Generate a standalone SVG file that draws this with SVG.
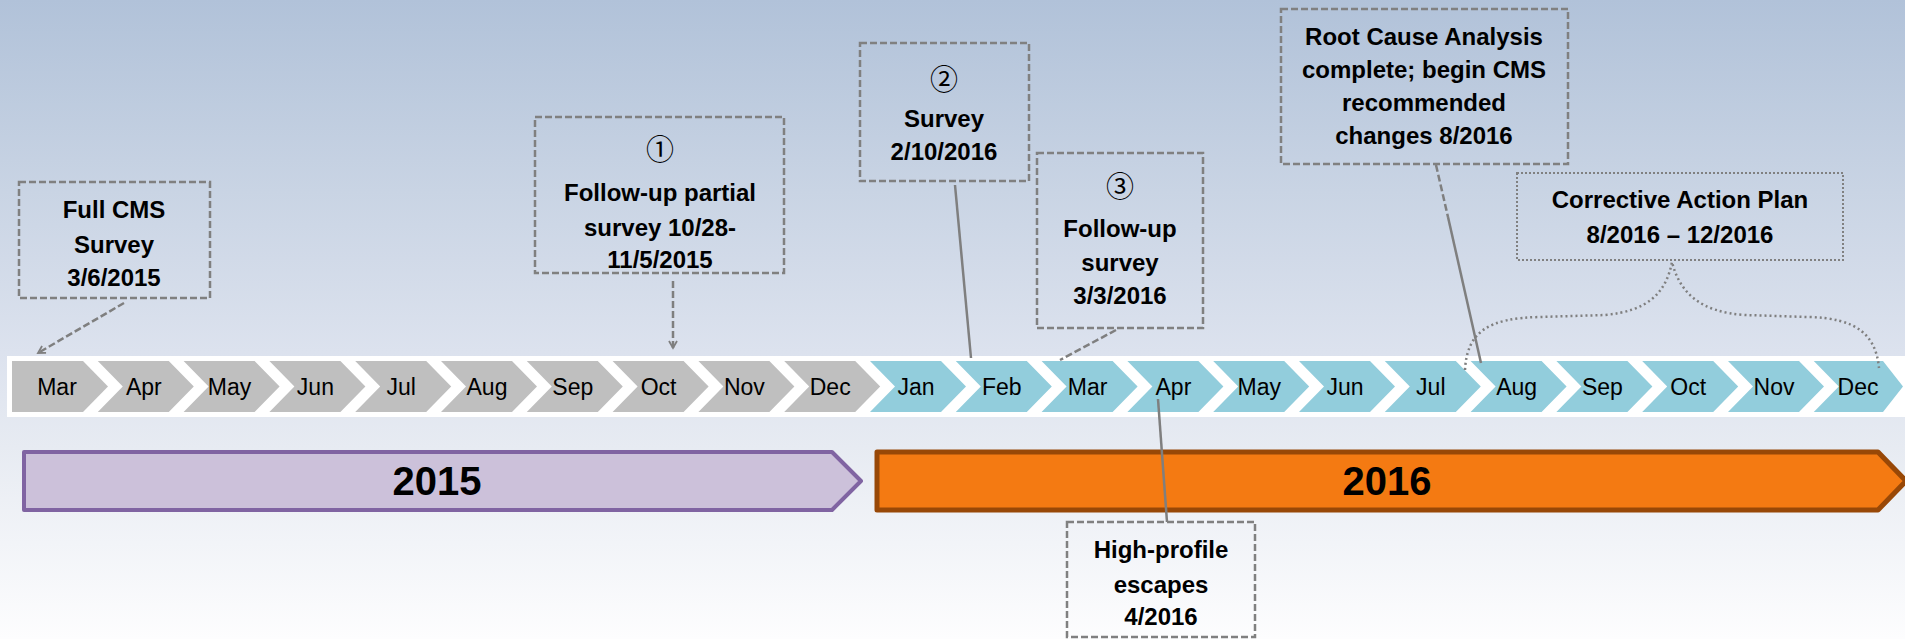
<svg xmlns="http://www.w3.org/2000/svg" width="1905" height="639" viewBox="0 0 1905 639">
<defs>
<linearGradient id="bg" x1="0" y1="0" x2="0" y2="1">
<stop offset="0" stop-color="#B1C2D9"/>
<stop offset="0.3" stop-color="#C9D4E4"/>
<stop offset="0.55" stop-color="#DCE2EE"/>
<stop offset="0.7" stop-color="#E7EBF2"/>
<stop offset="0.85" stop-color="#F2F4F8"/>
<stop offset="1" stop-color="#FDFDFE"/>
</linearGradient>
<marker id="arr" markerUnits="userSpaceOnUse" markerWidth="12" markerHeight="12" viewBox="0 0 12 12" refX="10" refY="6" orient="auto">
<path d="M3,2 L10,6 L3,10" fill="none" stroke="#7F7F7F" stroke-width="1.8"/>
</marker>
</defs>
<style>
.m15{fill:#BFBFBF}
.m16{fill:#92CDDC}
.mt{font-family:"Liberation Sans",Arial,sans-serif;font-size:23px;fill:#000;text-anchor:middle}
.bx{fill:none;stroke:#808080;stroke-width:2.5;stroke-dasharray:7 3}
.bxd{fill:none;stroke:#808080;stroke-width:2;stroke-dasharray:2 2}
.bt{font-family:"Liberation Sans",Arial,sans-serif;font-size:24px;font-weight:bold;fill:#000;text-anchor:middle}
.cn{font-family:"Noto Sans CJK JP","DejaVu Sans",sans-serif;font-size:28px;fill:#000;text-anchor:middle}
.yt{font-family:"Liberation Sans",Arial,sans-serif;font-size:40px;font-weight:bold;fill:#000;text-anchor:middle}
.cd{fill:none;stroke:#7F7F7F;stroke-width:2.5;stroke-dasharray:7 3}
.cs{fill:none;stroke:#7F7F7F;stroke-width:2.5}
.cdot{fill:none;stroke:#7F7F7F;stroke-width:2.5;stroke-dasharray:2 3}
</style>
<rect x="0" y="0" width="1905" height="639" fill="url(#bg)"/>

<g id="timeline">
<rect x="7" y="356" width="1898" height="61" fill="#FFFFFF"/>
<g id="m2015-mar"><polygon class="m15" points="12,361 83,361 108,386.5 83,412 12,412"/><text class="mt" x="57" y="395">Mar</text></g>
<g id="m2015-apr"><polygon class="m15" points="97.8,361 168.8,361 193.8,386.5 168.8,412 97.8,412 122.8,386.5"/><text class="mt" x="143.8" y="395">Apr</text></g>
<g id="m2015-may"><polygon class="m15" points="183.6,361 254.6,361 279.6,386.5 254.6,412 183.6,412 208.6,386.5"/><text class="mt" x="229.6" y="395">May</text></g>
<g id="m2015-jun"><polygon class="m15" points="269.4,361 340.4,361 365.4,386.5 340.4,412 269.4,412 294.4,386.5"/><text class="mt" x="315.4" y="395">Jun</text></g>
<g id="m2015-jul"><polygon class="m15" points="355.2,361 426.2,361 451.2,386.5 426.2,412 355.2,412 380.2,386.5"/><text class="mt" x="401.2" y="395">Jul</text></g>
<g id="m2015-aug"><polygon class="m15" points="441,361 512,361 537,386.5 512,412 441,412 466,386.5"/><text class="mt" x="487" y="395">Aug</text></g>
<g id="m2015-sep"><polygon class="m15" points="526.8,361 597.8,361 622.8,386.5 597.8,412 526.8,412 551.8,386.5"/><text class="mt" x="572.8" y="395">Sep</text></g>
<g id="m2015-oct"><polygon class="m15" points="612.6,361 683.6,361 708.6,386.5 683.6,412 612.6,412 637.6,386.5"/><text class="mt" x="658.6" y="395">Oct</text></g>
<g id="m2015-nov"><polygon class="m15" points="698.4,361 769.4,361 794.4,386.5 769.4,412 698.4,412 723.4,386.5"/><text class="mt" x="744.4" y="395">Nov</text></g>
<g id="m2015-dec"><polygon class="m15" points="784.2,361 855.2,361 880.2,386.5 855.2,412 784.2,412 809.2,386.5"/><text class="mt" x="830.2" y="395">Dec</text></g>
<g id="m2016-jan"><polygon class="m16" points="870,361 941,361 966,386.5 941,412 870,412 895,386.5"/><text class="mt" x="916" y="395">Jan</text></g>
<g id="m2016-feb"><polygon class="m16" points="955.8,361 1026.8,361 1051.8,386.5 1026.8,412 955.8,412 980.8,386.5"/><text class="mt" x="1001.8" y="395">Feb</text></g>
<g id="m2016-mar"><polygon class="m16" points="1041.6,361 1112.6,361 1137.6,386.5 1112.6,412 1041.6,412 1066.6,386.5"/><text class="mt" x="1087.6" y="395">Mar</text></g>
<g id="m2016-apr"><polygon class="m16" points="1127.4,361 1198.4,361 1223.4,386.5 1198.4,412 1127.4,412 1152.4,386.5"/><text class="mt" x="1173.4" y="395">Apr</text></g>
<g id="m2016-may"><polygon class="m16" points="1213.2,361 1284.2,361 1309.2,386.5 1284.2,412 1213.2,412 1238.2,386.5"/><text class="mt" x="1259.2" y="395">May</text></g>
<g id="m2016-jun"><polygon class="m16" points="1299,361 1370,361 1395,386.5 1370,412 1299,412 1324,386.5"/><text class="mt" x="1345" y="395">Jun</text></g>
<g id="m2016-jul"><polygon class="m16" points="1384.8,361 1455.8,361 1480.8,386.5 1455.8,412 1384.8,412 1409.8,386.5"/><text class="mt" x="1430.8" y="395">Jul</text></g>
<g id="m2016-aug"><polygon class="m16" points="1470.6,361 1541.6,361 1566.6,386.5 1541.6,412 1470.6,412 1495.6,386.5"/><text class="mt" x="1516.6" y="395">Aug</text></g>
<g id="m2016-sep"><polygon class="m16" points="1556.4,361 1627.4,361 1652.4,386.5 1627.4,412 1556.4,412 1581.4,386.5"/><text class="mt" x="1602.4" y="395">Sep</text></g>
<g id="m2016-oct"><polygon class="m16" points="1642.2,361 1713.2,361 1738.2,386.5 1713.2,412 1642.2,412 1667.2,386.5"/><text class="mt" x="1688.2" y="395">Oct</text></g>
<g id="m2016-nov"><polygon class="m16" points="1728,361 1799,361 1824,386.5 1799,412 1728,412 1753,386.5"/><text class="mt" x="1774" y="395">Nov</text></g>
<g id="m2016-dec"><polygon class="m16" points="1813.8,361 1883,361 1903,386.5 1883,412 1813.8,412 1838.8,386.5"/><text class="mt" x="1858" y="395">Dec</text></g>
</g>

<g id="year-2015">
<polygon points="24,452 832,452 861,481 832,510 24,510" fill="#CCC1DA" stroke="#8064A2" stroke-width="4" stroke-linejoin="round"/>
<text class="yt" x="437" y="495">2015</text>
</g>
<g id="year-2016">
<polygon points="877,452 1878,452 1906,481 1878,510 877,510" fill="#F47A12" stroke="#984807" stroke-width="5" stroke-linejoin="round"/>
<text class="yt" x="1387" y="495">2016</text>
</g>

<g id="connectors">
<line class="cd" x1="124" y1="303" x2="38" y2="353" marker-end="url(#arr)"/>
<line class="cd" x1="673" y1="281" x2="673" y2="348" marker-end="url(#arr)"/>
<line class="cs" x1="955" y1="185" x2="971" y2="358"/>
<line class="cd" x1="1116" y1="330" x2="1060" y2="360"/>
<line class="cd" x1="1436" y1="165" x2="1448" y2="217"/>
<line class="cs" x1="1448" y1="217" x2="1481" y2="363"/>
<line class="cs" x1="1167" y1="522" x2="1158" y2="399" stroke-width="2"/>
<path class="cdot" d="M1465,370 C1467,332 1488,318 1540,317 L1605,315 C1648,311 1666,293 1672,262 C1680,293 1700,312 1745,315 L1808,317 C1858,318 1876,336 1879,368"/>
</g>

<g id="box-full-cms">
<rect class="bx" x="19" y="182" width="191" height="116"/>
<text class="bt" x="114" y="218">Full CMS</text>
<text class="bt" x="114" y="253">Survey</text>
<text class="bt" x="114" y="286">3/6/2015</text>
</g>
<g id="box-followup-partial">
<rect class="bx" x="535" y="117" width="249" height="156"/>
<text class="cn" x="660" y="160">①</text>
<text class="bt" x="660" y="201">Follow-up partial</text>
<text class="bt" x="660" y="236">survey 10/28-</text>
<text class="bt" x="660" y="268">11/5/2015</text>
</g>
<g id="box-survey-2016">
<rect class="bx" x="860" y="43" width="169" height="138"/>
<text class="cn" x="944" y="90">②</text>
<text class="bt" x="944" y="127">Survey</text>
<text class="bt" x="944" y="160">2/10/2016</text>
</g>
<g id="box-followup-survey">
<rect class="bx" x="1037" y="153" width="166" height="175"/>
<text class="cn" x="1120" y="197">③</text>
<text class="bt" x="1120" y="237">Follow-up</text>
<text class="bt" x="1120" y="271">survey</text>
<text class="bt" x="1120" y="304">3/3/2016</text>
</g>
<g id="box-root-cause">
<rect class="bx" x="1281" y="9" width="287" height="155"/>
<text class="bt" x="1424" y="45">Root Cause Analysis</text>
<text class="bt" x="1424" y="78">complete; begin CMS</text>
<text class="bt" x="1424" y="111">recommended</text>
<text class="bt" x="1424" y="144">changes 8/2016</text>
</g>
<g id="box-corrective">
<rect class="bxd" x="1517" y="173" width="326" height="87"/>
<text class="bt" x="1680" y="208">Corrective Action Plan</text>
<text class="bt" x="1680" y="243">8/2016 – 12/2016</text>
</g>
<g id="box-escapes">
<rect class="bx" x="1067" y="522" width="188" height="115"/>
<text class="bt" x="1161" y="558">High-profile</text>
<text class="bt" x="1161" y="593">escapes</text>
<text class="bt" x="1161" y="625">4/2016</text>
</g>
</svg>
